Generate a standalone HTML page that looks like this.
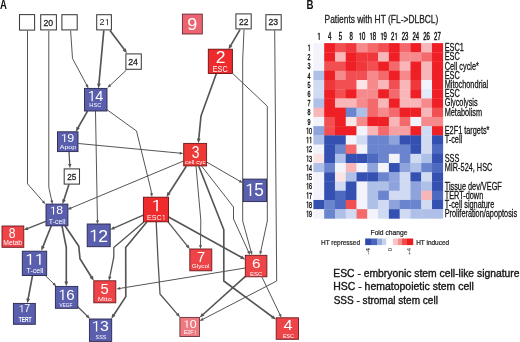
<!DOCTYPE html><html><head><meta charset="utf-8"><style>html,body{margin:0;padding:0;background:#fff;width:520px;height:342px;overflow:hidden}svg{display:block;will-change:transform}text{font-family:"Liberation Sans", sans-serif}</style></head><body>
<svg width="520" height="342" viewBox="0 0 520 342">
<rect width="520" height="342" fill="#fff"/>
<text x="0" y="0" font-size="20" fill="#111" font-weight="bold" transform="matrix(0.4769 0 0 0.6177 0.062 8.700)">A</text>
<text x="0" y="0" font-size="20" fill="#111" font-weight="bold" transform="matrix(0.4836 0 0 0.6177 306.452 8.700)">B</text>
<polyline points="27.5,30.7 27.5,183.8 43.26,201.75" fill="none" stroke="#555555" stroke-width="1" stroke-linejoin="round"/>
<polygon points="45.5,204.3 41.8,202.36 44.05,200.38" fill="#555555"/>
<polyline points="48.8,30.7 48.8,187.5 51.77,200.98" fill="none" stroke="#555555" stroke-width="1" stroke-linejoin="round"/>
<polygon points="52.5,204.3 50.2,200.81 53.13,200.17" fill="#555555"/>
<polyline points="70.6,30.5 72.5,58.5 86.9,85.4" fill="none" stroke="#555555" stroke-width="1" stroke-linejoin="round"/>
<polygon points="88.5,88.4 85.34,85.67 87.98,84.25" fill="#555555"/>
<polyline points="103.8,30.4 98.89,84.17" fill="none" stroke="#555555" stroke-width="1.65" stroke-linejoin="round"/>
<polygon points="98.5,88.4 97.05,83.5 100.81,83.85" fill="#555555"/>
<polyline points="110,30.4 124.46,49.8" fill="none" stroke="#555555" stroke-width="1.65" stroke-linejoin="round"/>
<polygon points="127,53.2 122.65,50.53 125.68,48.27" fill="#555555"/>
<polyline points="126.5,70 109.98,85.48" fill="none" stroke="#555555" stroke-width="1" stroke-linejoin="round"/>
<polygon points="107.5,87.8 109.32,84.04 111.37,86.23" fill="#555555"/>
<polyline points="87.5,111.1 77.9,128.01" fill="none" stroke="#555555" stroke-width="1.65" stroke-linejoin="round"/>
<polygon points="75.8,131.7 76.5,126.64 79.79,128.51" fill="#555555"/>
<polyline points="95.5,111.1 97.44,220.9" fill="none" stroke="#555555" stroke-width="1" stroke-linejoin="round"/>
<polygon points="97.5,224.3 95.93,220.43 98.93,220.37" fill="#555555"/>
<polyline points="106,109 136.5,131 151,190 151.53,193.73" fill="none" stroke="#555555" stroke-width="1" stroke-linejoin="round"/>
<polygon points="152,197.1 149.97,193.45 152.94,193.03" fill="#555555"/>
<polyline points="78.3,143.5 180.22,153.18" fill="none" stroke="#555555" stroke-width="1" stroke-linejoin="round"/>
<polygon points="183.6,153.5 179.58,154.62 179.86,151.64" fill="#555555"/>
<polyline points="69,151.8 69.77,164.52" fill="none" stroke="#555555" stroke-width="1.3" stroke-linejoin="round"/>
<polygon points="70,168.3 68.06,164.12 71.42,163.92" fill="#555555"/>
<polyline points="69,184.3 63.81,200.26" fill="none" stroke="#555555" stroke-width="1.65" stroke-linejoin="round"/>
<polygon points="62.5,204.3 62.17,199.2 65.76,200.37" fill="#555555"/>
<polyline points="183.6,161 70.64,208.19" fill="none" stroke="#555555" stroke-width="1" stroke-linejoin="round"/>
<polygon points="67.5,209.5 70.52,206.61 71.68,209.38" fill="#555555"/>
<polyline points="216.3,73.7 201,116 198.72,139.08" fill="none" stroke="#555555" stroke-width="1.65" stroke-linejoin="round"/>
<polygon points="198.3,143.3 196.89,138.39 200.65,138.76" fill="#555555"/>
<polyline points="232.7,73.5 267.3,106.2 267.3,221 260.71,251.68" fill="none" stroke="#555555" stroke-width="1" stroke-linejoin="round"/>
<polygon points="260,255 259.35,250.87 262.29,251.5" fill="#555555"/>
<polyline points="240,29.6 230.64,45.63" fill="none" stroke="#555555" stroke-width="1.65" stroke-linejoin="round"/>
<polygon points="228.5,49.3 229.26,44.25 232.52,46.15" fill="#555555"/>
<polyline points="244,29.6 242.7,60 242.7,221 251.1,251.72" fill="none" stroke="#555555" stroke-width="1" stroke-linejoin="round"/>
<polygon points="252,255 249.52,251.63 252.42,250.84" fill="#555555"/>
<polyline points="274.7,30.3 276.7,281 202.62,319.43" fill="none" stroke="#555555" stroke-width="1" stroke-linejoin="round"/>
<polygon points="199.6,321 202.37,317.87 203.75,320.54" fill="#555555"/>
<polyline points="206.6,162 239.96,181.3" fill="none" stroke="#555555" stroke-width="1" stroke-linejoin="round"/>
<polygon points="242.9,183 238.77,182.35 240.28,179.75" fill="#555555"/>
<polyline points="186.3,166.2 168.79,193.53" fill="none" stroke="#555555" stroke-width="1.65" stroke-linejoin="round"/>
<polygon points="166.5,197.1 167.47,192.09 170.65,194.12" fill="#555555"/>
<polyline points="196,166.2 200.8,220 200.54,245.6" fill="none" stroke="#555555" stroke-width="1" stroke-linejoin="round"/>
<polygon points="200.5,249 199.04,245.08 202.04,245.12" fill="#555555"/>
<polyline points="198.8,166.2 223.8,229.8 223.8,281 272.58,316.98" fill="none" stroke="#555555" stroke-width="1.65" stroke-linejoin="round"/>
<polygon points="276,319.5 271.06,318.2 273.3,315.16" fill="#555555"/>
<polyline points="201.7,166.2 233.5,207 233.5,219 248.58,251.91" fill="none" stroke="#555555" stroke-width="1" stroke-linejoin="round"/>
<polygon points="250,255 247.01,252.08 249.74,250.83" fill="#555555"/>
<polyline points="143.3,215.2 113.77,228.08" fill="none" stroke="#555555" stroke-width="1.3" stroke-linejoin="round"/>
<polygon points="110.3,229.6 113.56,226.34 114.9,229.42" fill="#555555"/>
<polyline points="143.8,221.9 113.8,247.5 113.8,257 109.75,277.08" fill="none" stroke="#555555" stroke-width="1.3" stroke-linejoin="round"/>
<polygon points="109,280.8 108.2,276.26 111.49,276.93" fill="#555555"/>
<polyline points="146.8,221.9 125.7,247.5 125.8,296.6 113.62,315.25" fill="none" stroke="#555555" stroke-width="1.65" stroke-linejoin="round"/>
<polygon points="111.3,318.8 112.31,313.79 115.48,315.86" fill="#555555"/>
<polyline points="156.2,221.9 158,260 160,294 177.53,314.33" fill="none" stroke="#555555" stroke-width="1.3" stroke-linejoin="round"/>
<polygon points="180,317.2 175.93,315.05 178.47,312.85" fill="#555555"/>
<polyline points="168,221.9 187.42,246.05" fill="none" stroke="#555555" stroke-width="1.3" stroke-linejoin="round"/>
<polygon points="189.8,249 185.8,246.71 188.42,244.6" fill="#555555"/>
<polyline points="168.6,217 241.49,257.34" fill="none" stroke="#555555" stroke-width="1.65" stroke-linejoin="round"/>
<polygon points="245.2,259.4 240.13,258.76 241.96,255.45" fill="#555555"/>
<polyline points="45.8,221.3 27.32,228.61" fill="none" stroke="#555555" stroke-width="1.3" stroke-linejoin="round"/>
<polygon points="23.8,230 27.17,226.86 28.41,229.98" fill="#555555"/>
<polyline points="51.3,225.8 42.88,246.86" fill="none" stroke="#555555" stroke-width="1.65" stroke-linejoin="round"/>
<polygon points="41.3,250.8 41.31,245.69 44.82,247.1" fill="#555555"/>
<polyline points="62,225.8 66.3,247.5 66.3,282.06" fill="none" stroke="#555555" stroke-width="1.65" stroke-linejoin="round"/>
<polygon points="66.3,286.3 64.41,281.56 68.19,281.56" fill="#555555"/>
<polyline points="65,225.8 78.8,246.3 80,258.8 91.54,277.2" fill="none" stroke="#555555" stroke-width="1.65" stroke-linejoin="round"/>
<polygon points="93.8,280.8 89.68,277.78 92.88,275.78" fill="#555555"/>
<polyline points="45,275.3 53.86,283.93" fill="none" stroke="#555555" stroke-width="1" stroke-linejoin="round"/>
<polygon points="56.3,286.3 52.46,284.65 54.55,282.5" fill="#555555"/>
<polyline points="32.5,275.6 28.08,299.13" fill="none" stroke="#555555" stroke-width="1.65" stroke-linejoin="round"/>
<polygon points="27.3,303.3 26.32,298.29 30.03,298.99" fill="#555555"/>
<polyline points="77,306 87.3,316.14" fill="none" stroke="#555555" stroke-width="1.3" stroke-linejoin="round"/>
<polygon points="90,318.8 85.76,316.99 88.12,314.59" fill="#555555"/>
<polyline points="245.2,268 119.66,288.45" fill="none" stroke="#555555" stroke-width="1" stroke-linejoin="round"/>
<polygon points="116.3,289 119.91,286.89 120.39,289.85" fill="#555555"/>
<polyline points="245.4,276.3 202.75,314.76" fill="none" stroke="#555555" stroke-width="1.65" stroke-linejoin="round"/>
<polygon points="199.6,317.6 201.86,313.02 204.39,315.83" fill="#555555"/>
<polyline points="262,277.2 280.03,314.74" fill="none" stroke="#555555" stroke-width="1" stroke-linejoin="round"/>
<polygon points="281.5,317.8 278.46,314.93 281.16,313.64" fill="#555555"/>
<rect x="19.5" y="14.6" width="15.1" height="15.5" fill="#fff" stroke="#3c3c3c" stroke-width="1.05"/>
<rect x="40.7" y="14.7" width="15.7" height="15.2" fill="#fff" stroke="#3c3c3c" stroke-width="1.05"/>
<text x="0" y="0" font-size="20" fill="#222" stroke="#222" stroke-width="0.6" transform="matrix(0.4350 0 0 0.4449 43.465 25.711)">20</text>
<rect x="61.9" y="14.7" width="15.3" height="15.2" fill="#fff" stroke="#3c3c3c" stroke-width="1.05"/>
<rect x="96.7" y="14.7" width="14.7" height="15.2" fill="#fff" stroke="#3c3c3c" stroke-width="1.05"/>
<g fill="#222" transform="matrix(0.4545 0 0 0.4441 99.446 25.300)"><text x="0.000" y="0" font-size="20">2</text><polygon points="17.12,0.00 18.82,0.00 18.82,-13.76 17.48,-13.76 13.48,-11.84 13.92,-10.64 17.12,-12.14"/></g>
<rect x="125.9" y="53.9" width="15.4" height="15.4" fill="#fff" stroke="#3c3c3c" stroke-width="1.05"/>
<text x="0" y="0" font-size="20" fill="#222" stroke="#222" stroke-width="0.6" transform="matrix(0.4405 0 0 0.4513 128.160 65.100)">24</text>
<rect x="235.9" y="13.9" width="15.3" height="15" fill="#fff" stroke="#3c3c3c" stroke-width="1.05"/>
<text x="0" y="0" font-size="20" fill="#222" stroke="#222" stroke-width="0.6" transform="matrix(0.4249 0 0 0.4728 238.975 24.700)">22</text>
<rect x="265.9" y="14.7" width="15.3" height="15.2" fill="#fff" stroke="#3c3c3c" stroke-width="1.05"/>
<text x="0" y="0" font-size="20" fill="#222" stroke="#222" stroke-width="0.6" transform="matrix(0.4322 0 0 0.4449 268.568 25.311)">23</text>
<rect x="64.2" y="168.9" width="15.3" height="15.2" fill="#fff" stroke="#3c3c3c" stroke-width="1.05"/>
<text x="0" y="0" font-size="20" fill="#222" stroke="#222" stroke-width="0.6" transform="matrix(0.4118 0 0 0.4308 67.288 179.514)">25</text>
<rect x="182.4" y="14.1" width="19.9" height="19.9" fill="#ec6470" stroke="#6a2832" stroke-width="0.9"/>
<text x="0" y="0" font-size="20" fill="#fff" transform="matrix(0.8983 0 0 0.8686 187.256 30.426)">9</text>
<rect x="208.3" y="49.2" width="24.1" height="24.3" fill="#ee2a2c" stroke="#6b1013" stroke-width="0.9"/>
<text x="0" y="0" font-size="20" fill="#fff" transform="matrix(0.8772 0 0 0.8381 215.723 63.200)">2</text>
<text x="0" y="0" font-size="20" fill="#fff" transform="matrix(0.3616 0 0 0.4308 212.807 72.014)">ESC</text>
<rect x="84.5" y="88.4" width="22.5" height="22.6" fill="#5a5fad" stroke="#28264d" stroke-width="0.9"/>
<g fill="#fff" transform="matrix(0.7253 0 0 0.7485 87.188 101.300)"><polygon points="6.00,0.00 7.70,0.00 7.70,-13.76 6.36,-13.76 2.36,-11.84 2.80,-10.64 6.00,-12.14"/><text x="11.123" y="0" font-size="20">4</text></g>
<text x="0" y="0" font-size="20" fill="#fff" transform="matrix(0.2813 0 0 0.2684 89.339 107.346)">HSC</text>
<rect x="57.5" y="131.8" width="20.5" height="19.8" fill="#5a5fad" stroke="#28264d" stroke-width="0.9"/>
<g fill="#fff" transform="matrix(0.6229 0 0 0.5579 60.430 141.888)"><polygon points="6.00,0.00 7.70,0.00 7.70,-13.76 6.36,-13.76 2.36,-11.84 2.80,-10.64 6.00,-12.14"/><text x="11.123" y="0" font-size="20">9</text></g>
<text x="0" y="0" font-size="20" fill="#fff" transform="matrix(0.3536 0 0 0.2958 59.686 149.170)">Apop</text>
<rect x="183.7" y="143.4" width="22.9" height="22.5" fill="#ee3836" stroke="#6b1618" stroke-width="0.9"/>
<text x="0" y="0" font-size="20" fill="#fff" transform="matrix(0.6962 0 0 0.8404 191.771 157.832)">3</text>
<text x="0" y="0" font-size="20" fill="#fff" transform="matrix(0.3131 0 0 0.2680 185.037 164.285)">cell cyc</text>
<rect x="243.2" y="179.1" width="23.3" height="22.5" fill="#5a5fad" stroke="#28264d" stroke-width="0.9"/>
<g fill="#fff" transform="matrix(0.8612 0 0 0.8811 244.568 195.924)"><polygon points="6.00,0.00 7.70,0.00 7.70,-13.76 6.36,-13.76 2.36,-11.84 2.80,-10.64 6.00,-12.14"/><text x="11.123" y="0" font-size="20">5</text></g>
<rect x="143.4" y="197.2" width="25.1" height="24.6" fill="#ee2a2c" stroke="#6b1013" stroke-width="0.9"/>
<g fill="#fff" transform="matrix(0.8801 0 0 0.8212 151.023 211.300)"><polygon points="6.00,0.00 7.70,0.00 7.70,-13.76 6.36,-13.76 2.36,-11.84 2.80,-10.64 6.00,-12.14"/></g>
<g fill="#fff" transform="matrix(0.3561 0 0 0.3672 146.916 220.127)"><text x="0.000" y="0" font-size="20">ESC</text><polygon points="47.12,0.00 48.82,0.00 48.82,-13.76 47.48,-13.76 43.48,-11.84 43.92,-10.64 47.12,-12.14"/></g>
<rect x="46" y="204.1" width="21.9" height="21.7" fill="#5a5fad" stroke="#28264d" stroke-width="0.9"/>
<g fill="#fff" transform="matrix(0.6098 0 0 0.5579 49.361 214.388)"><polygon points="6.00,0.00 7.70,0.00 7.70,-13.76 6.36,-13.76 2.36,-11.84 2.80,-10.64 6.00,-12.14"/><text x="11.123" y="0" font-size="20">8</text></g>
<text x="0" y="0" font-size="20" fill="#fff" transform="matrix(0.3478 0 0 0.3878 48.847 223.622)">T-cell</text>
<rect x="87.2" y="224" width="23" height="22.7" fill="#5a5fad" stroke="#28264d" stroke-width="0.9"/>
<g fill="#fff" transform="matrix(0.8791 0 0 0.8524 88.525 241.500)"><polygon points="6.00,0.00 7.70,0.00 7.70,-13.76 6.36,-13.76 2.36,-11.84 2.80,-10.64 6.00,-12.14"/><text x="11.123" y="0" font-size="20">2</text></g>
<rect x="2" y="226" width="21.8" height="21.3" fill="#ee4448" stroke="#6b1b20" stroke-width="0.9"/>
<text x="0" y="0" font-size="20" fill="#fff" transform="matrix(0.6064 0 0 0.7133 8.679 237.657)">8</text>
<text x="0" y="0" font-size="20" fill="#fff" transform="matrix(0.3390 0 0 0.3537 3.344 245.129)">Metab</text>
<rect x="189.8" y="249" width="22" height="21.8" fill="#ee4448" stroke="#6b1b20" stroke-width="0.9"/>
<text x="0" y="0" font-size="20" fill="#fff" transform="matrix(0.7253 0 0 0.7558 197.060 261.700)">7</text>
<text x="0" y="0" font-size="20" fill="#fff" transform="matrix(0.3175 0 0 0.2787 191.782 267.941)">Glycol</text>
<rect x="22.3" y="251.2" width="24.4" height="24.3" fill="#5a5fad" stroke="#28264d" stroke-width="0.9"/>
<g fill="#fff" transform="matrix(0.8504 0 0 0.7703 24.593 264.700)"><polygon points="6.00,0.00 7.70,0.00 7.70,-13.76 6.36,-13.76 2.36,-11.84 2.80,-10.64 6.00,-12.14"/><polygon points="17.12,0.00 18.82,0.00 18.82,-13.76 17.48,-13.76 13.48,-11.84 13.92,-10.64 17.12,-12.14"/></g>
<text x="0" y="0" font-size="20" fill="#fff" transform="matrix(0.3565 0 0 0.3401 26.443 272.932)">T-cell</text>
<rect x="245.3" y="255.3" width="21.6" height="21.5" fill="#ee4448" stroke="#6b1b20" stroke-width="0.9"/>
<text x="0" y="0" font-size="20" fill="#fff" transform="matrix(0.7701 0 0 0.6780 252.015 267.964)">6</text>
<text x="0" y="0" font-size="20" fill="#fff" transform="matrix(0.2970 0 0 0.3107 250.113 275.538)">ESC</text>
<rect x="93.8" y="280.8" width="22" height="22" fill="#ee4448" stroke="#6b1b20" stroke-width="0.9"/>
<text x="0" y="0" font-size="20" fill="#fff" transform="matrix(0.7384 0 0 0.7593 100.409 293.548)">5</text>
<text x="0" y="0" font-size="20" fill="#fff" transform="matrix(0.3739 0 0 0.2993 97.687 301.040)">Mito</text>
<rect x="55.4" y="286.4" width="22.4" height="21.9" fill="#5a5fad" stroke="#28264d" stroke-width="0.9"/>
<g fill="#fff" transform="matrix(0.7578 0 0 0.7415 57.712 299.952)"><polygon points="6.00,0.00 7.70,0.00 7.70,-13.76 6.36,-13.76 2.36,-11.84 2.80,-10.64 6.00,-12.14"/><text x="11.123" y="0" font-size="20">6</text></g>
<text x="0" y="0" font-size="20" fill="#fff" transform="matrix(0.2371 0 0 0.2613 59.476 306.648)">VEGF</text>
<rect x="13.4" y="303.4" width="21.9" height="20.9" fill="#5a5fad" stroke="#28264d" stroke-width="0.9"/>
<g fill="#fff" transform="matrix(0.5349 0 0 0.5087 18.338 312.300)"><polygon points="6.00,0.00 7.70,0.00 7.70,-13.76 6.36,-13.76 2.36,-11.84 2.80,-10.64 6.00,-12.14"/><text x="11.123" y="0" font-size="20">7</text></g>
<text x="0" y="0" font-size="20" fill="#fff" font-weight="bold" transform="matrix(0.2453 0 0 0.3198 18.746 321.900)">TERT</text>
<rect x="179.9" y="317.4" width="19.6" height="19.1" fill="#ec7880" stroke="#6a3039" stroke-width="0.9"/>
<g fill="#fff" transform="matrix(0.6229 0 0 0.5297 182.730 327.694)"><polygon points="6.00,0.00 7.70,0.00 7.70,-13.76 6.36,-13.76 2.36,-11.84 2.80,-10.64 6.00,-12.14"/><text x="11.123" y="0" font-size="20">0</text></g>
<g fill="#fff" transform="matrix(0.2667 0 0 0.2865 183.763 334.400)"><text x="0.000" y="0" font-size="20">E2F</text><polygon points="42.68,0.00 44.38,0.00 44.38,-13.76 43.04,-13.76 39.04,-11.84 39.48,-10.64 42.68,-12.14"/></g>
<rect x="89.4" y="319" width="22.3" height="22.4" fill="#5a5fad" stroke="#28264d" stroke-width="0.9"/>
<g fill="#fff" transform="matrix(0.7946 0 0 0.7486 91.125 331.450)"><polygon points="6.00,0.00 7.70,0.00 7.70,-13.76 6.36,-13.76 2.36,-11.84 2.80,-10.64 6.00,-12.14"/><text x="11.123" y="0" font-size="20">3</text></g>
<text x="0" y="0" font-size="20" fill="#fff" transform="matrix(0.2698 0 0 0.2895 95.552 338.942)">SSS</text>
<rect x="276.2" y="317.8" width="22.3" height="21.5" fill="#ee4448" stroke="#6b1b20" stroke-width="0.9"/>
<text x="0" y="0" font-size="20" fill="#fff" transform="matrix(0.8135 0 0 0.7485 283.526 330.400)">4</text>
<text x="0" y="0" font-size="20" fill="#fff" transform="matrix(0.2738 0 0 0.2895 282.651 338.142)">ESC</text>
<rect x="313.4" y="43.1" width="11.08" height="9.53" fill="#f3f4fb"/>
<rect x="324.18" y="43.1" width="11.08" height="9.53" fill="#ee2026"/>
<rect x="334.97" y="43.1" width="11.08" height="9.53" fill="#f24f52"/>
<rect x="345.75" y="43.1" width="11.08" height="9.53" fill="#f0383c"/>
<rect x="356.53" y="43.1" width="11.08" height="9.53" fill="#f6898c"/>
<rect x="367.32" y="43.1" width="11.08" height="9.53" fill="#f4696c"/>
<rect x="378.1" y="43.1" width="11.08" height="9.53" fill="#f24f52"/>
<rect x="388.88" y="43.1" width="11.08" height="9.53" fill="#ee2026"/>
<rect x="399.67" y="43.1" width="11.08" height="9.53" fill="#f4696c"/>
<rect x="410.45" y="43.1" width="11.08" height="9.53" fill="#ee2026"/>
<rect x="421.23" y="43.1" width="11.08" height="9.53" fill="#f9b6b8"/>
<rect x="432.02" y="43.1" width="11.08" height="9.53" fill="#ee2026"/>
<rect x="313.4" y="52.33" width="11.08" height="9.53" fill="#f3f4fb"/>
<rect x="324.18" y="52.33" width="11.08" height="9.53" fill="#ee2026"/>
<rect x="334.97" y="52.33" width="11.08" height="9.53" fill="#f9b6b8"/>
<rect x="345.75" y="52.33" width="11.08" height="9.53" fill="#ee2026"/>
<rect x="356.53" y="52.33" width="11.08" height="9.53" fill="#f0383c"/>
<rect x="367.32" y="52.33" width="11.08" height="9.53" fill="#f0383c"/>
<rect x="378.1" y="52.33" width="11.08" height="9.53" fill="#f9b6b8"/>
<rect x="388.88" y="52.33" width="11.08" height="9.53" fill="#ee2026"/>
<rect x="399.67" y="52.33" width="11.08" height="9.53" fill="#f6898c"/>
<rect x="410.45" y="52.33" width="11.08" height="9.53" fill="#f6898c"/>
<rect x="421.23" y="52.33" width="11.08" height="9.53" fill="#f4696c"/>
<rect x="432.02" y="52.33" width="11.08" height="9.53" fill="#ee2026"/>
<rect x="313.4" y="61.55" width="11.08" height="9.53" fill="#f3f4fb"/>
<rect x="324.18" y="61.55" width="11.08" height="9.53" fill="#f24f52"/>
<rect x="334.97" y="61.55" width="11.08" height="9.53" fill="#f24f52"/>
<rect x="345.75" y="61.55" width="11.08" height="9.53" fill="#ee2026"/>
<rect x="356.53" y="61.55" width="11.08" height="9.53" fill="#f0383c"/>
<rect x="367.32" y="61.55" width="11.08" height="9.53" fill="#f24f52"/>
<rect x="378.1" y="61.55" width="11.08" height="9.53" fill="#ee2026"/>
<rect x="388.88" y="61.55" width="11.08" height="9.53" fill="#f4696c"/>
<rect x="399.67" y="61.55" width="11.08" height="9.53" fill="#f9b6b8"/>
<rect x="410.45" y="61.55" width="11.08" height="9.53" fill="#ee2026"/>
<rect x="421.23" y="61.55" width="11.08" height="9.53" fill="#f9b6b8"/>
<rect x="432.02" y="61.55" width="11.08" height="9.53" fill="#ee2026"/>
<rect x="313.4" y="70.78" width="11.08" height="9.53" fill="#afc0e8"/>
<rect x="324.18" y="70.78" width="11.08" height="9.53" fill="#ee2026"/>
<rect x="334.97" y="70.78" width="11.08" height="9.53" fill="#f6898c"/>
<rect x="345.75" y="70.78" width="11.08" height="9.53" fill="#f24f52"/>
<rect x="356.53" y="70.78" width="11.08" height="9.53" fill="#f24f52"/>
<rect x="367.32" y="70.78" width="11.08" height="9.53" fill="#f6898c"/>
<rect x="378.1" y="70.78" width="11.08" height="9.53" fill="#f4696c"/>
<rect x="388.88" y="70.78" width="11.08" height="9.53" fill="#ee2026"/>
<rect x="399.67" y="70.78" width="11.08" height="9.53" fill="#f6898c"/>
<rect x="410.45" y="70.78" width="11.08" height="9.53" fill="#ee2026"/>
<rect x="421.23" y="70.78" width="11.08" height="9.53" fill="#f9b6b8"/>
<rect x="432.02" y="70.78" width="11.08" height="9.53" fill="#ee2026"/>
<rect x="313.4" y="80.01" width="11.08" height="9.53" fill="#d0daf2"/>
<rect x="324.18" y="80.01" width="11.08" height="9.53" fill="#f0383c"/>
<rect x="334.97" y="80.01" width="11.08" height="9.53" fill="#f24f52"/>
<rect x="345.75" y="80.01" width="11.08" height="9.53" fill="#f24f52"/>
<rect x="356.53" y="80.01" width="11.08" height="9.53" fill="#fbe4e6"/>
<rect x="367.32" y="80.01" width="11.08" height="9.53" fill="#f6898c"/>
<rect x="378.1" y="80.01" width="11.08" height="9.53" fill="#f9b6b8"/>
<rect x="388.88" y="80.01" width="11.08" height="9.53" fill="#f24f52"/>
<rect x="399.67" y="80.01" width="11.08" height="9.53" fill="#f9b6b8"/>
<rect x="410.45" y="80.01" width="11.08" height="9.53" fill="#f0383c"/>
<rect x="421.23" y="80.01" width="11.08" height="9.53" fill="#f3f4fb"/>
<rect x="432.02" y="80.01" width="11.08" height="9.53" fill="#ee2026"/>
<rect x="313.4" y="89.23" width="11.08" height="9.53" fill="#d0daf2"/>
<rect x="324.18" y="89.23" width="11.08" height="9.53" fill="#ee2026"/>
<rect x="334.97" y="89.23" width="11.08" height="9.53" fill="#f24f52"/>
<rect x="345.75" y="89.23" width="11.08" height="9.53" fill="#ee2026"/>
<rect x="356.53" y="89.23" width="11.08" height="9.53" fill="#f6898c"/>
<rect x="367.32" y="89.23" width="11.08" height="9.53" fill="#f6898c"/>
<rect x="378.1" y="89.23" width="11.08" height="9.53" fill="#ee2026"/>
<rect x="388.88" y="89.23" width="11.08" height="9.53" fill="#f4696c"/>
<rect x="399.67" y="89.23" width="11.08" height="9.53" fill="#f9b6b8"/>
<rect x="410.45" y="89.23" width="11.08" height="9.53" fill="#ee2026"/>
<rect x="421.23" y="89.23" width="11.08" height="9.53" fill="#e3e9f7"/>
<rect x="432.02" y="89.23" width="11.08" height="9.53" fill="#ee2026"/>
<rect x="313.4" y="98.46" width="11.08" height="9.53" fill="#afc0e8"/>
<rect x="324.18" y="98.46" width="11.08" height="9.53" fill="#ee2026"/>
<rect x="334.97" y="98.46" width="11.08" height="9.53" fill="#f9b6b8"/>
<rect x="345.75" y="98.46" width="11.08" height="9.53" fill="#f9b6b8"/>
<rect x="356.53" y="98.46" width="11.08" height="9.53" fill="#f6898c"/>
<rect x="367.32" y="98.46" width="11.08" height="9.53" fill="#f4696c"/>
<rect x="378.1" y="98.46" width="11.08" height="9.53" fill="#f9b6b8"/>
<rect x="388.88" y="98.46" width="11.08" height="9.53" fill="#ee2026"/>
<rect x="399.67" y="98.46" width="11.08" height="9.53" fill="#f9b6b8"/>
<rect x="410.45" y="98.46" width="11.08" height="9.53" fill="#f9b6b8"/>
<rect x="421.23" y="98.46" width="11.08" height="9.53" fill="#f6898c"/>
<rect x="432.02" y="98.46" width="11.08" height="9.53" fill="#ee2026"/>
<rect x="313.4" y="107.68" width="11.08" height="9.53" fill="#f9b6b8"/>
<rect x="324.18" y="107.68" width="11.08" height="9.53" fill="#ee2026"/>
<rect x="334.97" y="107.68" width="11.08" height="9.53" fill="#ee2026"/>
<rect x="345.75" y="107.68" width="11.08" height="9.53" fill="#6b84ce"/>
<rect x="356.53" y="107.68" width="11.08" height="9.53" fill="#afc0e8"/>
<rect x="367.32" y="107.68" width="11.08" height="9.53" fill="#f4696c"/>
<rect x="378.1" y="107.68" width="11.08" height="9.53" fill="#f6898c"/>
<rect x="388.88" y="107.68" width="11.08" height="9.53" fill="#f4696c"/>
<rect x="399.67" y="107.68" width="11.08" height="9.53" fill="#ee2026"/>
<rect x="410.45" y="107.68" width="11.08" height="9.53" fill="#ee2026"/>
<rect x="421.23" y="107.68" width="11.08" height="9.53" fill="#f9b6b8"/>
<rect x="432.02" y="107.68" width="11.08" height="9.53" fill="#f24f52"/>
<rect x="313.4" y="116.91" width="11.08" height="9.53" fill="#f3f4fb"/>
<rect x="324.18" y="116.91" width="11.08" height="9.53" fill="#f24f52"/>
<rect x="334.97" y="116.91" width="11.08" height="9.53" fill="#ee2026"/>
<rect x="345.75" y="116.91" width="11.08" height="9.53" fill="#fbe4e6"/>
<rect x="356.53" y="116.91" width="11.08" height="9.53" fill="#f6898c"/>
<rect x="367.32" y="116.91" width="11.08" height="9.53" fill="#ee2026"/>
<rect x="378.1" y="116.91" width="11.08" height="9.53" fill="#ee2026"/>
<rect x="388.88" y="116.91" width="11.08" height="9.53" fill="#f9b6b8"/>
<rect x="399.67" y="116.91" width="11.08" height="9.53" fill="#f4696c"/>
<rect x="410.45" y="116.91" width="11.08" height="9.53" fill="#f3f4fb"/>
<rect x="421.23" y="116.91" width="11.08" height="9.53" fill="#f6898c"/>
<rect x="432.02" y="116.91" width="11.08" height="9.53" fill="#f6898c"/>
<rect x="313.4" y="126.14" width="11.08" height="9.53" fill="#8ea3dc"/>
<rect x="324.18" y="126.14" width="11.08" height="9.53" fill="#f24f52"/>
<rect x="334.97" y="126.14" width="11.08" height="9.53" fill="#ee2026"/>
<rect x="345.75" y="126.14" width="11.08" height="9.53" fill="#ee2026"/>
<rect x="356.53" y="126.14" width="11.08" height="9.53" fill="#f3f4fb"/>
<rect x="367.32" y="126.14" width="11.08" height="9.53" fill="#f9b6b8"/>
<rect x="378.1" y="126.14" width="11.08" height="9.53" fill="#f4696c"/>
<rect x="388.88" y="126.14" width="11.08" height="9.53" fill="#f7a0a3"/>
<rect x="399.67" y="126.14" width="11.08" height="9.53" fill="#f7a0a3"/>
<rect x="410.45" y="126.14" width="11.08" height="9.53" fill="#ee2026"/>
<rect x="421.23" y="126.14" width="11.08" height="9.53" fill="#d0daf2"/>
<rect x="432.02" y="126.14" width="11.08" height="9.53" fill="#ee2026"/>
<rect x="313.4" y="135.36" width="11.08" height="9.53" fill="#afc0e8"/>
<rect x="324.18" y="135.36" width="11.08" height="9.53" fill="#3451b2"/>
<rect x="334.97" y="135.36" width="11.08" height="9.53" fill="#3451b2"/>
<rect x="345.75" y="135.36" width="11.08" height="9.53" fill="#f3f4fb"/>
<rect x="356.53" y="135.36" width="11.08" height="9.53" fill="#d0daf2"/>
<rect x="367.32" y="135.36" width="11.08" height="9.53" fill="#6b84ce"/>
<rect x="378.1" y="135.36" width="11.08" height="9.53" fill="#6b84ce"/>
<rect x="388.88" y="135.36" width="11.08" height="9.53" fill="#8ea3dc"/>
<rect x="399.67" y="135.36" width="11.08" height="9.53" fill="#3451b2"/>
<rect x="410.45" y="135.36" width="11.08" height="9.53" fill="#3451b2"/>
<rect x="421.23" y="135.36" width="11.08" height="9.53" fill="#d0daf2"/>
<rect x="432.02" y="135.36" width="11.08" height="9.53" fill="#3451b2"/>
<rect x="313.4" y="144.59" width="11.08" height="9.53" fill="#f3f4fb"/>
<rect x="324.18" y="144.59" width="11.08" height="9.53" fill="#3451b2"/>
<rect x="334.97" y="144.59" width="11.08" height="9.53" fill="#6b84ce"/>
<rect x="345.75" y="144.59" width="11.08" height="9.53" fill="#f4696c"/>
<rect x="356.53" y="144.59" width="11.08" height="9.53" fill="#f3f4fb"/>
<rect x="367.32" y="144.59" width="11.08" height="9.53" fill="#6b84ce"/>
<rect x="378.1" y="144.59" width="11.08" height="9.53" fill="#6b84ce"/>
<rect x="388.88" y="144.59" width="11.08" height="9.53" fill="#6b84ce"/>
<rect x="399.67" y="144.59" width="11.08" height="9.53" fill="#6b84ce"/>
<rect x="410.45" y="144.59" width="11.08" height="9.53" fill="#3451b2"/>
<rect x="421.23" y="144.59" width="11.08" height="9.53" fill="#d0daf2"/>
<rect x="432.02" y="144.59" width="11.08" height="9.53" fill="#4e6ac0"/>
<rect x="313.4" y="153.82" width="11.08" height="9.53" fill="#fbe4e6"/>
<rect x="324.18" y="153.82" width="11.08" height="9.53" fill="#3451b2"/>
<rect x="334.97" y="153.82" width="11.08" height="9.53" fill="#afc0e8"/>
<rect x="345.75" y="153.82" width="11.08" height="9.53" fill="#3451b2"/>
<rect x="356.53" y="153.82" width="11.08" height="9.53" fill="#3451b2"/>
<rect x="367.32" y="153.82" width="11.08" height="9.53" fill="#4e6ac0"/>
<rect x="378.1" y="153.82" width="11.08" height="9.53" fill="#6b84ce"/>
<rect x="388.88" y="153.82" width="11.08" height="9.53" fill="#f3f4fb"/>
<rect x="399.67" y="153.82" width="11.08" height="9.53" fill="#6b84ce"/>
<rect x="410.45" y="153.82" width="11.08" height="9.53" fill="#d0daf2"/>
<rect x="421.23" y="153.82" width="11.08" height="9.53" fill="#afc0e8"/>
<rect x="432.02" y="153.82" width="11.08" height="9.53" fill="#3451b2"/>
<rect x="313.4" y="163.04" width="11.08" height="9.53" fill="#afc0e8"/>
<rect x="324.18" y="163.04" width="11.08" height="9.53" fill="#6b84ce"/>
<rect x="334.97" y="163.04" width="11.08" height="9.53" fill="#f3f4fb"/>
<rect x="345.75" y="163.04" width="11.08" height="9.53" fill="#f9b6b8"/>
<rect x="356.53" y="163.04" width="11.08" height="9.53" fill="#f3f4fb"/>
<rect x="367.32" y="163.04" width="11.08" height="9.53" fill="#8ea3dc"/>
<rect x="378.1" y="163.04" width="11.08" height="9.53" fill="#f3f4fb"/>
<rect x="388.88" y="163.04" width="11.08" height="9.53" fill="#3451b2"/>
<rect x="399.67" y="163.04" width="11.08" height="9.53" fill="#8ea3dc"/>
<rect x="410.45" y="163.04" width="11.08" height="9.53" fill="#afc0e8"/>
<rect x="421.23" y="163.04" width="11.08" height="9.53" fill="#6b84ce"/>
<rect x="432.02" y="163.04" width="11.08" height="9.53" fill="#4e6ac0"/>
<rect x="313.4" y="172.27" width="11.08" height="9.53" fill="#f3f4fb"/>
<rect x="324.18" y="172.27" width="11.08" height="9.53" fill="#3451b2"/>
<rect x="334.97" y="172.27" width="11.08" height="9.53" fill="#fbe4e6"/>
<rect x="345.75" y="172.27" width="11.08" height="9.53" fill="#afc0e8"/>
<rect x="356.53" y="172.27" width="11.08" height="9.53" fill="#3451b2"/>
<rect x="367.32" y="172.27" width="11.08" height="9.53" fill="#3451b2"/>
<rect x="378.1" y="172.27" width="11.08" height="9.53" fill="#6b84ce"/>
<rect x="388.88" y="172.27" width="11.08" height="9.53" fill="#8ea3dc"/>
<rect x="399.67" y="172.27" width="11.08" height="9.53" fill="#d0daf2"/>
<rect x="410.45" y="172.27" width="11.08" height="9.53" fill="#3451b2"/>
<rect x="421.23" y="172.27" width="11.08" height="9.53" fill="#d0daf2"/>
<rect x="432.02" y="172.27" width="11.08" height="9.53" fill="#3451b2"/>
<rect x="313.4" y="181.49" width="11.08" height="9.53" fill="#f3f4fb"/>
<rect x="324.18" y="181.49" width="11.08" height="9.53" fill="#3451b2"/>
<rect x="334.97" y="181.49" width="11.08" height="9.53" fill="#d0daf2"/>
<rect x="345.75" y="181.49" width="11.08" height="9.53" fill="#3451b2"/>
<rect x="356.53" y="181.49" width="11.08" height="9.53" fill="#f3f4fb"/>
<rect x="367.32" y="181.49" width="11.08" height="9.53" fill="#afc0e8"/>
<rect x="378.1" y="181.49" width="11.08" height="9.53" fill="#afc0e8"/>
<rect x="388.88" y="181.49" width="11.08" height="9.53" fill="#8ea3dc"/>
<rect x="399.67" y="181.49" width="11.08" height="9.53" fill="#d0daf2"/>
<rect x="410.45" y="181.49" width="11.08" height="9.53" fill="#8ea3dc"/>
<rect x="421.23" y="181.49" width="11.08" height="9.53" fill="#afc0e8"/>
<rect x="432.02" y="181.49" width="11.08" height="9.53" fill="#3451b2"/>
<rect x="313.4" y="190.72" width="11.08" height="9.53" fill="#f3f4fb"/>
<rect x="324.18" y="190.72" width="11.08" height="9.53" fill="#3451b2"/>
<rect x="334.97" y="190.72" width="11.08" height="9.53" fill="#4e6ac0"/>
<rect x="345.75" y="190.72" width="11.08" height="9.53" fill="#3451b2"/>
<rect x="356.53" y="190.72" width="11.08" height="9.53" fill="#f3f4fb"/>
<rect x="367.32" y="190.72" width="11.08" height="9.53" fill="#afc0e8"/>
<rect x="378.1" y="190.72" width="11.08" height="9.53" fill="#6b84ce"/>
<rect x="388.88" y="190.72" width="11.08" height="9.53" fill="#d0daf2"/>
<rect x="399.67" y="190.72" width="11.08" height="9.53" fill="#d0daf2"/>
<rect x="410.45" y="190.72" width="11.08" height="9.53" fill="#8ea3dc"/>
<rect x="421.23" y="190.72" width="11.08" height="9.53" fill="#f9b6b8"/>
<rect x="432.02" y="190.72" width="11.08" height="9.53" fill="#4e6ac0"/>
<rect x="313.4" y="199.95" width="11.08" height="9.53" fill="#3451b2"/>
<rect x="324.18" y="199.95" width="11.08" height="9.53" fill="#6b84ce"/>
<rect x="334.97" y="199.95" width="11.08" height="9.53" fill="#4e6ac0"/>
<rect x="345.75" y="199.95" width="11.08" height="9.53" fill="#f24f52"/>
<rect x="356.53" y="199.95" width="11.08" height="9.53" fill="#f3f4fb"/>
<rect x="367.32" y="199.95" width="11.08" height="9.53" fill="#afc0e8"/>
<rect x="378.1" y="199.95" width="11.08" height="9.53" fill="#d0daf2"/>
<rect x="388.88" y="199.95" width="11.08" height="9.53" fill="#8ea3dc"/>
<rect x="399.67" y="199.95" width="11.08" height="9.53" fill="#6b84ce"/>
<rect x="410.45" y="199.95" width="11.08" height="9.53" fill="#6b84ce"/>
<rect x="421.23" y="199.95" width="11.08" height="9.53" fill="#d0daf2"/>
<rect x="432.02" y="199.95" width="11.08" height="9.53" fill="#3451b2"/>
<rect x="313.4" y="209.17" width="11.08" height="9.53" fill="#f3f4fb"/>
<rect x="324.18" y="209.17" width="11.08" height="9.53" fill="#6b84ce"/>
<rect x="334.97" y="209.17" width="11.08" height="9.53" fill="#afc0e8"/>
<rect x="345.75" y="209.17" width="11.08" height="9.53" fill="#d0daf2"/>
<rect x="356.53" y="209.17" width="11.08" height="9.53" fill="#f4696c"/>
<rect x="367.32" y="209.17" width="11.08" height="9.53" fill="#f3f4fb"/>
<rect x="378.1" y="209.17" width="11.08" height="9.53" fill="#d0daf2"/>
<rect x="388.88" y="209.17" width="11.08" height="9.53" fill="#3451b2"/>
<rect x="399.67" y="209.17" width="11.08" height="9.53" fill="#d0daf2"/>
<rect x="410.45" y="209.17" width="11.08" height="9.53" fill="#afc0e8"/>
<rect x="421.23" y="209.17" width="11.08" height="9.53" fill="#afc0e8"/>
<rect x="432.02" y="209.17" width="11.08" height="9.53" fill="#afc0e8"/>
<text x="0" y="0" font-size="11.2" fill="#222" stroke="#222" stroke-width="0.3" transform="matrix(0.7526 0 0 1 324.509 22.900)">Patients with HT (FL-&gt;DLBCL)</text>
<g fill="#111" stroke="#111" stroke-width="0.9" transform="matrix(0.3000 0 0 0.5000 317.123 39.800)"><polygon points="6.00,0.00 7.70,0.00 7.70,-13.76 6.36,-13.76 2.36,-11.84 2.80,-10.64 6.00,-12.14"/></g>
<g fill="#111" stroke="#111" stroke-width="0.9" transform="matrix(0.3000 0 0 0.5000 327.907 39.800)"><text x="0.000" y="0" font-size="20">4</text></g>
<g fill="#111" stroke="#111" stroke-width="0.9" transform="matrix(0.3000 0 0 0.5000 338.690 39.800)"><text x="0.000" y="0" font-size="20">5</text></g>
<g fill="#111" stroke="#111" stroke-width="0.9" transform="matrix(0.3000 0 0 0.5000 349.473 39.800)"><text x="0.000" y="0" font-size="20">8</text></g>
<g fill="#111" stroke="#111" stroke-width="0.9" transform="matrix(0.3000 0 0 0.5000 358.588 39.800)"><polygon points="6.00,0.00 7.70,0.00 7.70,-13.76 6.36,-13.76 2.36,-11.84 2.80,-10.64 6.00,-12.14"/><text x="11.123" y="0" font-size="20">0</text></g>
<g fill="#111" stroke="#111" stroke-width="0.9" transform="matrix(0.3000 0 0 0.5000 369.371 39.800)"><polygon points="6.00,0.00 7.70,0.00 7.70,-13.76 6.36,-13.76 2.36,-11.84 2.80,-10.64 6.00,-12.14"/><text x="11.123" y="0" font-size="20">8</text></g>
<g fill="#111" stroke="#111" stroke-width="0.9" transform="matrix(0.3000 0 0 0.5000 380.155 39.800)"><polygon points="6.00,0.00 7.70,0.00 7.70,-13.76 6.36,-13.76 2.36,-11.84 2.80,-10.64 6.00,-12.14"/><text x="11.123" y="0" font-size="20">9</text></g>
<g fill="#111" stroke="#111" stroke-width="0.9" transform="matrix(0.3000 0 0 0.5000 390.938 39.800)"><text x="0.000" y="0" font-size="20">2</text><polygon points="17.12,0.00 18.82,0.00 18.82,-13.76 17.48,-13.76 13.48,-11.84 13.92,-10.64 17.12,-12.14"/></g>
<g fill="#111" stroke="#111" stroke-width="0.9" transform="matrix(0.3000 0 0 0.5000 401.721 39.800)"><text x="0.000" y="0" font-size="20">23</text></g>
<g fill="#111" stroke="#111" stroke-width="0.9" transform="matrix(0.3000 0 0 0.5000 412.505 39.800)"><text x="0.000" y="0" font-size="20">24</text></g>
<g fill="#111" stroke="#111" stroke-width="0.9" transform="matrix(0.3000 0 0 0.5000 423.288 39.800)"><text x="0.000" y="0" font-size="20">26</text></g>
<g fill="#111" stroke="#111" stroke-width="0.9" transform="matrix(0.3000 0 0 0.5000 434.071 39.800)"><text x="0.000" y="0" font-size="20">27</text></g>
<g fill="#111" stroke="#111" stroke-width="0.9" transform="matrix(0.2700 0 0 0.4500 307.498 50.913)"><polygon points="6.00,0.00 7.70,0.00 7.70,-13.76 6.36,-13.76 2.36,-11.84 2.80,-10.64 6.00,-12.14"/></g>
<g fill="#111" stroke="#111" stroke-width="0.9" transform="matrix(0.2700 0 0 0.4500 307.498 60.139)"><text x="0.000" y="0" font-size="20">2</text></g>
<g fill="#111" stroke="#111" stroke-width="0.9" transform="matrix(0.2700 0 0 0.4500 307.498 69.366)"><text x="0.000" y="0" font-size="20">3</text></g>
<g fill="#111" stroke="#111" stroke-width="0.9" transform="matrix(0.2700 0 0 0.4500 307.498 78.592)"><text x="0.000" y="0" font-size="20">4</text></g>
<g fill="#111" stroke="#111" stroke-width="0.9" transform="matrix(0.2700 0 0 0.4500 307.498 87.818)"><text x="0.000" y="0" font-size="20">5</text></g>
<g fill="#111" stroke="#111" stroke-width="0.9" transform="matrix(0.2700 0 0 0.4500 307.498 97.045)"><text x="0.000" y="0" font-size="20">6</text></g>
<g fill="#111" stroke="#111" stroke-width="0.9" transform="matrix(0.2700 0 0 0.4500 307.498 106.271)"><text x="0.000" y="0" font-size="20">7</text></g>
<g fill="#111" stroke="#111" stroke-width="0.9" transform="matrix(0.2700 0 0 0.4500 307.498 115.497)"><text x="0.000" y="0" font-size="20">8</text></g>
<g fill="#111" stroke="#111" stroke-width="0.9" transform="matrix(0.2700 0 0 0.4500 307.498 124.724)"><text x="0.000" y="0" font-size="20">9</text></g>
<g fill="#111" stroke="#111" stroke-width="0.9" transform="matrix(0.2700 0 0 0.4500 305.997 133.950)"><polygon points="6.00,0.00 7.70,0.00 7.70,-13.76 6.36,-13.76 2.36,-11.84 2.80,-10.64 6.00,-12.14"/><text x="11.123" y="0" font-size="20">0</text></g>
<g fill="#111" stroke="#111" stroke-width="0.9" transform="matrix(0.2700 0 0 0.4500 305.997 143.176)"><polygon points="6.00,0.00 7.70,0.00 7.70,-13.76 6.36,-13.76 2.36,-11.84 2.80,-10.64 6.00,-12.14"/><polygon points="17.12,0.00 18.82,0.00 18.82,-13.76 17.48,-13.76 13.48,-11.84 13.92,-10.64 17.12,-12.14"/></g>
<g fill="#111" stroke="#111" stroke-width="0.9" transform="matrix(0.2700 0 0 0.4500 305.997 152.403)"><polygon points="6.00,0.00 7.70,0.00 7.70,-13.76 6.36,-13.76 2.36,-11.84 2.80,-10.64 6.00,-12.14"/><text x="11.123" y="0" font-size="20">2</text></g>
<g fill="#111" stroke="#111" stroke-width="0.9" transform="matrix(0.2700 0 0 0.4500 305.997 161.629)"><polygon points="6.00,0.00 7.70,0.00 7.70,-13.76 6.36,-13.76 2.36,-11.84 2.80,-10.64 6.00,-12.14"/><text x="11.123" y="0" font-size="20">3</text></g>
<g fill="#111" stroke="#111" stroke-width="0.9" transform="matrix(0.2700 0 0 0.4500 305.997 170.855)"><polygon points="6.00,0.00 7.70,0.00 7.70,-13.76 6.36,-13.76 2.36,-11.84 2.80,-10.64 6.00,-12.14"/><text x="11.123" y="0" font-size="20">4</text></g>
<g fill="#111" stroke="#111" stroke-width="0.9" transform="matrix(0.2700 0 0 0.4500 305.997 180.082)"><polygon points="6.00,0.00 7.70,0.00 7.70,-13.76 6.36,-13.76 2.36,-11.84 2.80,-10.64 6.00,-12.14"/><text x="11.123" y="0" font-size="20">5</text></g>
<g fill="#111" stroke="#111" stroke-width="0.9" transform="matrix(0.2700 0 0 0.4500 305.997 189.308)"><polygon points="6.00,0.00 7.70,0.00 7.70,-13.76 6.36,-13.76 2.36,-11.84 2.80,-10.64 6.00,-12.14"/><text x="11.123" y="0" font-size="20">6</text></g>
<g fill="#111" stroke="#111" stroke-width="0.9" transform="matrix(0.2700 0 0 0.4500 305.997 198.534)"><polygon points="6.00,0.00 7.70,0.00 7.70,-13.76 6.36,-13.76 2.36,-11.84 2.80,-10.64 6.00,-12.14"/><text x="11.123" y="0" font-size="20">7</text></g>
<g fill="#111" stroke="#111" stroke-width="0.9" transform="matrix(0.2700 0 0 0.4500 305.997 207.761)"><polygon points="6.00,0.00 7.70,0.00 7.70,-13.76 6.36,-13.76 2.36,-11.84 2.80,-10.64 6.00,-12.14"/><text x="11.123" y="0" font-size="20">8</text></g>
<g fill="#111" stroke="#111" stroke-width="0.9" transform="matrix(0.2700 0 0 0.4500 305.997 216.987)"><polygon points="6.00,0.00 7.70,0.00 7.70,-13.76 6.36,-13.76 2.36,-11.84 2.80,-10.64 6.00,-12.14"/><text x="11.123" y="0" font-size="20">9</text></g>
<text stroke="#111" stroke-width="0.25" x="0" y="0" font-size="10.4" fill="#111" transform="matrix(0.7050 0 0 1 444.700 51.113)">ESC1</text>
<text stroke="#111" stroke-width="0.25" x="0" y="0" font-size="10.4" fill="#111" transform="matrix(0.7050 0 0 1 444.700 60.339)">ESC</text>
<text stroke="#111" stroke-width="0.25" x="0" y="0" font-size="10.4" fill="#111" transform="matrix(0.7050 0 0 1 444.700 69.566)">Cell cycle*</text>
<text stroke="#111" stroke-width="0.25" x="0" y="0" font-size="10.4" fill="#111" transform="matrix(0.7050 0 0 1 444.700 78.792)">ESC</text>
<text stroke="#111" stroke-width="0.25" x="0" y="0" font-size="10.4" fill="#111" transform="matrix(0.7050 0 0 1 444.700 88.018)">Mitochondrial</text>
<text stroke="#111" stroke-width="0.25" x="0" y="0" font-size="10.4" fill="#111" transform="matrix(0.7050 0 0 1 444.700 97.245)">ESC</text>
<text stroke="#111" stroke-width="0.25" x="0" y="0" font-size="10.4" fill="#111" transform="matrix(0.7050 0 0 1 444.700 106.471)">Glycolysis</text>
<text stroke="#111" stroke-width="0.25" x="0" y="0" font-size="10.4" fill="#111" transform="matrix(0.7050 0 0 1 444.700 115.697)">Metabolism</text>
<text stroke="#111" stroke-width="0.25" x="0" y="0" font-size="10.4" fill="#111" transform="matrix(0.7050 0 0 1 444.700 134.150)">E2F1 targets*</text>
<text stroke="#111" stroke-width="0.25" x="0" y="0" font-size="10.4" fill="#111" transform="matrix(0.7050 0 0 1 444.700 143.376)">T-cell</text>
<text stroke="#111" stroke-width="0.25" x="0" y="0" font-size="10.4" fill="#111" transform="matrix(0.7050 0 0 1 444.700 161.829)">SSS</text>
<text stroke="#111" stroke-width="0.25" x="0" y="0" font-size="10.4" fill="#111" transform="matrix(0.7050 0 0 1 444.700 171.055)">MIR-524, HSC</text>
<text stroke="#111" stroke-width="0.25" x="0" y="0" font-size="10.4" fill="#111" transform="matrix(0.7050 0 0 1 444.700 189.508)">Tissue dev/VEGF</text>
<text stroke="#111" stroke-width="0.25" x="0" y="0" font-size="10.4" fill="#111" transform="matrix(0.7050 0 0 1 444.700 198.734)">TERT-down</text>
<text stroke="#111" stroke-width="0.25" x="0" y="0" font-size="10.4" fill="#111" transform="matrix(0.7050 0 0 1 444.700 207.961)">T-cell signature</text>
<text stroke="#111" stroke-width="0.25" x="0" y="0" font-size="10.4" fill="#111" transform="matrix(0.7050 0 0 1 444.700 217.187)">Proliferation/apoptosis</text>
<text stroke="#222" stroke-width="0.22" x="0" y="0" font-size="7.2" fill="#222" transform="matrix(0.9300 0 0 1 370.573 235.000)">Fold change</text>
<text stroke="#222" stroke-width="0.22" x="0" y="0" font-size="7.2" fill="#222" transform="matrix(0.9000 0 0 1 321.000 244.500)">HT repressed</text>
<text stroke="#222" stroke-width="0.22" x="0" y="0" font-size="7.2" fill="#222" transform="matrix(0.9000 0 0 1 416.200 244.500)">HT induced</text>
<rect x="365.2" y="238.5" width="6" height="6.6" fill="#3048aa"/>
<rect x="371" y="238.5" width="6.2" height="6.6" fill="#4a66bc"/>
<rect x="377" y="238.5" width="5.2" height="6.6" fill="#98aedc"/>
<rect x="382" y="238.5" width="4.2" height="6.6" fill="#c4d2ee"/>
<rect x="392.9" y="238.5" width="5.3" height="6.6" fill="#f8c4c4"/>
<rect x="398" y="238.5" width="4.2" height="6.6" fill="#f49090"/>
<rect x="402" y="238.5" width="5.2" height="6.6" fill="#f04a4a"/>
<rect x="407" y="238.5" width="6.2" height="6.6" fill="#ee1c1c"/>
<text x="0" y="0" font-size="20" fill="#222" transform="translate(366.900 254.500) rotate(-90) matrix(0.3983 0 0 0.2471 -0.350 3.400)">-4</text>
<text x="0" y="0" font-size="20" fill="#222" transform="translate(387.300 251.100) rotate(-90) matrix(0.2929 0 0 0.3107 -0.228 4.338)">0</text>
<text x="0" y="0" font-size="20" fill="#222" transform="translate(407.900 254.800) rotate(-90) matrix(0.3202 0 0 0.2471 -0.314 3.400)">+4</text>
<text x="0" y="0" font-size="10.2" fill="#151515" stroke="#151515" stroke-width="0.35" transform="matrix(1.0160 0 0 1 333.250 276.800)">ESC - embryonic stem cell-like signature</text>
<text x="0" y="0" font-size="10.2" fill="#151515" stroke="#151515" stroke-width="0.35" transform="matrix(1.0261 0 0 1 333.242 290.000)">HSC - hematopoietic stem cell</text>
<text x="0" y="0" font-size="10.2" fill="#151515" stroke="#151515" stroke-width="0.35" transform="matrix(0.9844 0 0 1 333.638 303.700)">SSS - stromal stem cell</text>
</svg></body></html>
